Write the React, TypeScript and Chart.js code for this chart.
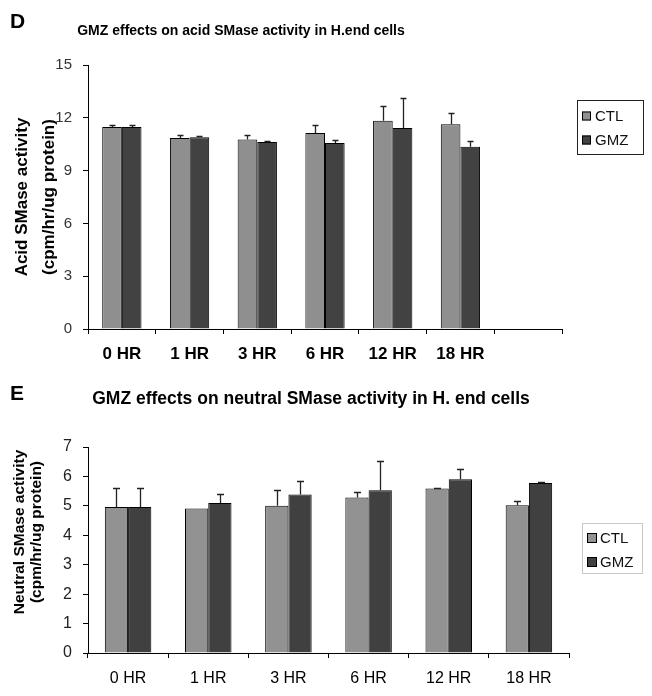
import React, { useEffect, useRef } from "react";
import { Chart, registerables } from "chart.js";

Chart.register(...registerables);

const FONT = "'Liberation Sans', Arial, sans-serif";

// ---- Panel D: acid SMase ----
const acidLabels = ["0 HR", "1 HR", "3 HR", "6 HR", "12 HR", "18 HR", ""];
const acidCTL = [11.48, 10.85, 10.76, 11.14, 11.83, 11.63, null];
const acidCTLErr = [0.13, 0.2, 0.24, 0.43, 0.84, 0.64, null];
const acidGMZ = [11.48, 10.9, 10.62, 10.57, 11.42, 10.36, null];
const acidGMZErr = [0.13, 0.07, 0.06, 0.15, 1.68, 0.3, null];
const acidTitle = "GMZ effects on acid SMase activity in H.end cells";
const acidYTitle = ["Acid SMase activity", "(cpm/hr/ug protein)"];

// ---- Panel E: neutral SMase ----
const neutralLabels = ["0 HR", "1 HR", "3 HR", "6 HR", "12 HR", "18 HR"];
const neutralCTL = [4.96, 4.91, 5.0, 5.28, 5.59, 5.02];
const neutralCTLErr = [0.64, 0, 0.55, 0.19, 0.02, 0.16];
const neutralGMZ = [4.96, 5.1, 5.39, 5.53, 5.9, 5.78];
const neutralGMZErr = [0.64, 0.29, 0.46, 0.98, 0.35, 0.02];
const neutralTitle = "GMZ effects on neutral SMase activity in H. end cells";
const neutralYTitle = ["Neutral SMase activity", "(cpm/hr/ug protein)"];

const seriesNames = ["CTL", "GMZ"];

function errorBarPlugin(cap: number, color: string, width: number) {
  return {
    id: "errorBars",
    afterDatasetsDraw(chart: any) {
      const ctx = chart.ctx;
      const yScale = chart.scales.y;
      chart.data.datasets.forEach((ds: any, di: number) => {
        const meta = chart.getDatasetMeta(di);
        const errs = ds.errors || [];
        meta.data.forEach((bar: any, i: number) => {
          const v = ds.data[i];
          const e = errs[i];
          if (v == null || !e) return;
          const x = Math.round(bar.x) + 0.5;
          const y0 = yScale.getPixelForValue(v);
          const y1 = Math.round(yScale.getPixelForValue(v + e)) + 0.5;
          ctx.save();
          ctx.strokeStyle = color;
          ctx.lineWidth = width;
          ctx.beginPath();
          ctx.moveTo(x, y0);
          ctx.lineTo(x, y1);
          ctx.moveTo(x - cap / 2, y1);
          ctx.lineTo(x + cap / 2, y1);
          ctx.stroke();
          ctx.restore();
        });
      });
    },
  };
}

function boxLegendPlugin(o: {
  x: number; y: number; w: number; h: number; border: string;
  swX: number; sw: number; rows: number[]; textX: number; font: string;
}) {
  return {
    id: "boxLegend",
    afterDraw(chart: any) {
      const ctx = chart.ctx;
      ctx.save();
      ctx.fillStyle = "#fff";
      ctx.fillRect(o.x, o.y, o.w, o.h);
      ctx.strokeStyle = o.border;
      ctx.lineWidth = 1;
      ctx.strokeRect(o.x + 0.5, o.y + 0.5, o.w, o.h);
      chart.data.datasets.forEach((ds: any, i: number) => {
        const cy = o.rows[i];
        ctx.fillStyle = ds.backgroundColor;
        ctx.fillRect(o.swX, cy - o.sw / 2, o.sw, o.sw);
        ctx.strokeStyle = "#000";
        ctx.strokeRect(o.swX + 0.5, cy - o.sw / 2 + 0.5, o.sw - 1, o.sw - 1);
        ctx.fillStyle = "#111";
        ctx.font = o.font;
        ctx.textBaseline = "middle";
        ctx.textAlign = "left";
        ctx.fillText(ds.label, o.textX, cy + 1);
      });
      ctx.restore();
    },
  };
}

function yTitlePlugin(lines: string[], xs: number[], yc: number, font: string) {
  return {
    id: "yTitle",
    afterDraw(chart: any) {
      const ctx = chart.ctx;
      ctx.save();
      ctx.font = font;
      ctx.fillStyle = "#000";
      ctx.textAlign = "center";
      ctx.textBaseline = "middle";
      lines.forEach((t, i) => {
        ctx.save();
        ctx.translate(xs[i], yc);
        ctx.rotate(-Math.PI / 2);
        ctx.fillText(t, 0, 0);
        ctx.restore();
      });
      ctx.restore();
    },
  };
}

function makeOptions(p: {
  top: number; right: number; xHeight: number; yMax: number; step: number;
  xFont: any; yFont: any; yColor: string; xPad: number;
}) {
  return {
    responsive: false,
    animation: false as const,
    events: [],
    layout: { padding: { top: p.top, right: p.right, left: 0, bottom: 0 } },
    plugins: { legend: { display: false }, tooltip: { enabled: false }, title: { display: false } },
    scales: {
      x: {
        offset: true,
        grid: { display: true, drawOnChartArea: false, drawTicks: true, tickLength: 5, color: "#000", offset: true },
        border: { display: true, color: "#000", width: 1 },
        ticks: { font: p.xFont, color: "#000", padding: p.xPad, maxRotation: 0, autoSkip: false },
        afterFit: (s: any) => { s.height = p.xHeight; },
      },
      y: {
        min: 0,
        max: p.yMax,
        ticks: { stepSize: p.step, font: p.yFont, color: p.yColor, padding: 11 },
        grid: { display: true, drawOnChartArea: false, drawTicks: true, tickLength: 5, color: "#000" },
        border: { display: true, color: "#000", width: 1 },
        afterFit: (s: any) => { s.width = 88; },
      },
    },
  };
}

export default function App() {
  const refD = useRef<HTMLCanvasElement>(null);
  const refE = useRef<HTMLCanvasElement>(null);

  useEffect(() => {
    const barCommon = { borderColor: "#000", borderWidth: 1, categoryPercentage: 0.58, barPercentage: 1.0 };

    const chartD = new Chart(refD.current as HTMLCanvasElement, {
      type: "bar",
      data: {
        labels: acidLabels,
        datasets: [
          { label: seriesNames[0], data: acidCTL, errors: acidCTLErr, backgroundColor: "#8f8f8f", ...barCommon } as any,
          { label: seriesNames[1], data: acidGMZ, errors: acidGMZErr, backgroundColor: "#424242", ...barCommon } as any,
        ],
      },
      options: makeOptions({
        top: 65, right: 90, xHeight: 36, yMax: 15, step: 3, xPad: 10,
        xFont: { family: FONT, size: 17, weight: "bold" },
        yFont: { family: FONT, size: 15 },
        yColor: "#333",
      }) as any,
      plugins: [
        errorBarPlugin(6, "#222", 1.3),
        boxLegendPlugin({ x: 577, y: 100, w: 66, h: 54, border: "#222", swX: 582, sw: 9, rows: [116, 140], textX: 595, font: `15px ${FONT}` }),
        yTitlePlugin(acidYTitle, [22.5, 49], 197, `bold 17px ${FONT}`),
      ],
    });

    const chartE = new Chart(refE.current as HTMLCanvasElement, {
      type: "bar",
      data: {
        labels: neutralLabels,
        datasets: [
          { label: seriesNames[0], data: neutralCTL, errors: neutralCTLErr, backgroundColor: "#929292", ...barCommon } as any,
          { label: seriesNames[1], data: neutralGMZ, errors: neutralGMZErr, backgroundColor: "#404040", ...barCommon } as any,
        ],
      },
      options: makeOptions({
        top: 82, right: 83, xHeight: 43, yMax: 7, step: 1, xPad: 11,
        xFont: { family: FONT, size: 16 },
        yFont: { family: FONT, size: 16 },
        yColor: "#222",
      }) as any,
      plugins: [
        errorBarPlugin(7, "#222", 1.3),
        boxLegendPlugin({ x: 582, y: 158, w: 60, h: 50, border: "#c8c8c8", swX: 587, sw: 10, rows: [173, 197], textX: 600, font: `15px ${FONT}` }),
        yTitlePlugin(neutralYTitle, [20, 36.5], 167, `bold 15.5px ${FONT}`),
      ],
    });

    return () => {
      chartD.destroy();
      chartE.destroy();
    };
  }, []);

  const txt: React.CSSProperties = { position: "absolute", fontFamily: FONT, fontWeight: "bold", lineHeight: 1, whiteSpace: "nowrap", color: "#000" };

  return (
    <div style={{ position: "absolute", left: 0, top: 0, width: 652, height: 696, background: "#fff", overflow: "hidden" }}>
      <canvas ref={refD} width={652} height={365} style={{ position: "absolute", left: 0, top: 0 }} />
      <canvas ref={refE} width={652} height={331} style={{ position: "absolute", left: 0, top: 365 }} />
      <div style={{ ...txt, left: 10, top: 10, fontSize: 21 }}>D</div>
      <div style={{ ...txt, left: 241, top: 23, fontSize: 14, transform: "translateX(-50%)" }}>{acidTitle}</div>
      <div style={{ ...txt, left: 10, top: 382, fontSize: 21 }}>E</div>
      <div style={{ ...txt, left: 311, top: 390, fontSize: 17.5, transform: "translateX(-50%)" }}>{neutralTitle}</div>
    </div>
  );
}
